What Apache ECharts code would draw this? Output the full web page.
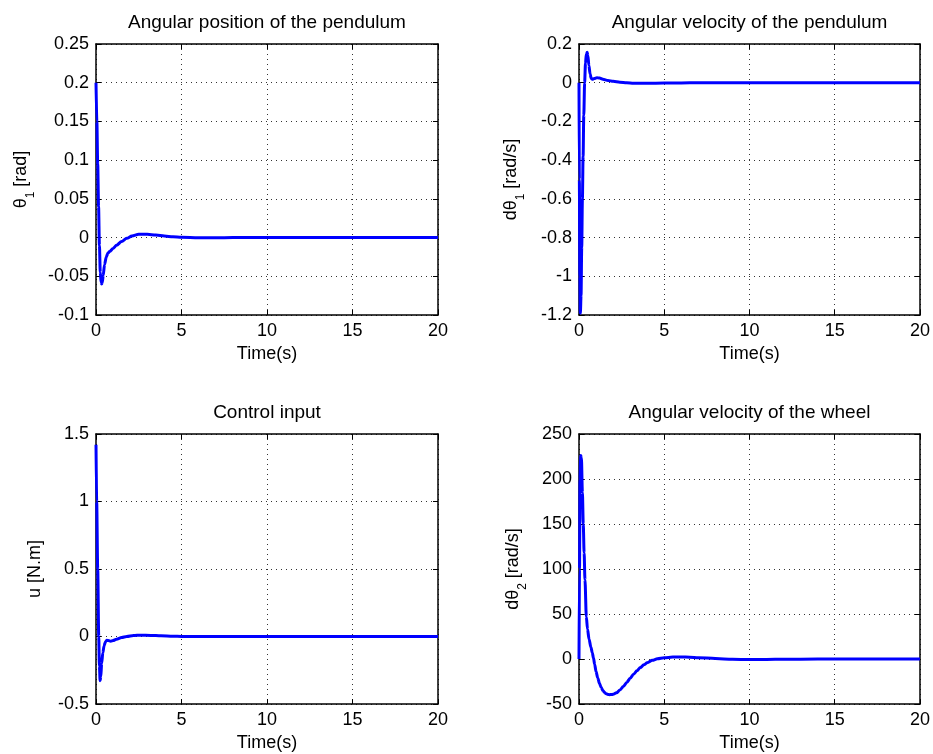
<!DOCTYPE html>
<html>
<head>
<meta charset="utf-8">
<script src="https://cdn.jsdelivr.net/npm/echarts@6/dist/echarts.min.js"></script>
<style>
html,body{margin:0;padding:0;background:#fff;}
#chart{width:933px;height:754px;}
</style>
</head>
<body>
<div id="chart"></div>
<script>
// ---- Data ----
const titles = ['Angular position of the pendulum', 'Angular velocity of the pendulum', 'Control input', 'Angular velocity of the wheel'];
const xName = 'Time(s)';

// Angular position theta1 [rad]
const posT = [0, 0.05, 0.1, 0.15, 0.2, 0.25, 0.3, 0.33, 0.37, 0.42, 0.5, 0.6, 0.7, 0.8, 1.0, 1.2, 1.5, 1.8, 2.1, 2.5, 3.0, 3.5, 4.0, 4.5, 5.0, 6, 7, 8, 10, 12, 14, 16, 18, 20];
const posV = [0.2, 0.15, 0.095, 0.04, -0.01, -0.045, -0.058, -0.06, -0.058, -0.049, -0.035, -0.025, -0.02, -0.018, -0.014, -0.010, -0.005, -0.001, 0.002, 0.0042, 0.0042, 0.0032, 0.002, 0.001, 0.0003, -0.0002, -0.0002, 0, 0, 0, 0, 0, 0, 0];

// Angular velocity dtheta1 [rad/s]
const velT = [0, 0.02, 0.05, 0.08, 0.12, 0.16, 0.2, 0.24, 0.28, 0.33, 0.38, 0.43, 0.48, 0.52, 0.58, 0.65, 0.72, 0.78, 0.9, 1.05, 1.2, 1.4, 1.7, 2.0, 2.4, 2.8, 3.2, 4, 5, 6, 7, 8, 10, 20];
const velV = [0, -0.5, -1.0, -1.19, -1.1, -0.85, -0.6, -0.38, -0.17, 0.0, 0.1, 0.148, 0.157, 0.14, 0.09, 0.045, 0.022, 0.018, 0.022, 0.026, 0.024, 0.018, 0.012, 0.007, 0.003, 0.0, -0.003, -0.003, -0.002, -0.001, 0, 0, 0, 0];

// Control input u [N.m]
const ctlT = [0, 0.04, 0.1, 0.16, 0.2, 0.24, 0.28, 0.33, 0.4, 0.47, 0.55, 0.63, 0.72, 0.86, 1.0, 1.2, 1.5, 1.8, 2.2, 2.6, 3.2, 3.8, 4.5, 5, 6, 8, 20];
const ctlV = [1.42, 1.0, 0.5, 0.0, -0.22, -0.327, -0.3, -0.2, -0.12, -0.07, -0.04, -0.028, -0.03, -0.035, -0.03, -0.02, -0.008, 0.0, 0.007, 0.01, 0.008, 0.005, 0.002, 0, 0, 0, 0];

// Wheel velocity dtheta2 [rad/s]
const whlT = [0, 0.03, 0.06, 0.1, 0.14, 0.2, 0.25, 0.3, 0.35, 0.43, 0.5, 0.59, 0.7, 0.78, 0.85, 0.92, 1.0, 1.1, 1.2, 1.3, 1.4, 1.5, 1.6, 1.7, 1.8, 1.9, 2.0, 2.2, 2.4, 2.6, 2.8, 3.0, 3.2, 3.4, 3.6, 3.8, 4.0, 4.3, 4.6, 5.0, 5.5, 6.0, 6.5, 7.0, 8.0, 9, 10, 11, 12, 14, 20];
const whlV = [0, 100, 200, 226, 224, 185, 150, 118, 88, 47, 33, 22, 13, 7, 1, -6, -14, -21, -27, -31.5, -35, -37.3, -38.7, -39.4, -39.6, -39.5, -39.2, -37.5, -34.5, -30.5, -26, -21.5, -17, -13, -9.5, -6.5, -4.2, -1.5, 0.2, 1.3, 2.1, 2.3, 2.0, 1.5, 0.5, -0.3, -0.6, -0.5, -0.3, 0, 0];

const yNames = [
  '{a|θ}{s|1}{sp| }{a|[rad]}',
  '{a|dθ}{s|1}{sp| }{a|[rad/s]}',
  '{a|u [N.m]}',
  '{a|dθ}{s|2}{sp| }{a|[rad/s]}'
];
const yMin = [-0.1, -1.2, -0.5, -50];
const yMax = [0.25, 0.2, 1.5, 250];
const yStep = [0.05, 0.2, 0.5, 50];
const seriesT = [posT, velT, ctlT, whlT];
const seriesV = [posV, velV, ctlV, whlV];

// ---- Layout ----
const FONT = '"Liberation Sans", Arial, Helvetica, sans-serif';
const grids = [
  {left: 96, top: 44, width: 342, height: 271},
  {left: 579, top: 44, width: 341, height: 271},
  {left: 96, top: 434, width: 342, height: 270},
  {left: 579, top: 434, width: 341, height: 270}
];
const yGaps = [59, 52, 52, 50];

const rich = {
  a: {fontSize: 18, lineHeight: 18, verticalAlign: 'top', color: '#000', fontFamily: FONT},
  s: {fontSize: 12, lineHeight: 12, verticalAlign: 'bottom', color: '#000', fontFamily: FONT},
  sp: {fontSize: 18, lineHeight: 25, color: '#000', fontFamily: FONT}
};

const axisLineStyle = {show: true, onZero: false, lineStyle: {color: '#000', width: 1.5}};
const tickStyle = {show: true, inside: true, length: 5, lineStyle: {color: '#000', width: 1}};
const gridLine = {show: true, lineStyle: {color: '#333', width: 1, type: [1, 4]}};
const labelStyle = {color: '#000', fontSize: 18, fontFamily: FONT};

const option = {
  animation: false,
  backgroundColor: '#fff',
  textStyle: {fontFamily: FONT},
  title: [],
  grid: [],
  xAxis: [],
  yAxis: [],
  series: []
};

for (let i = 0; i < 4; i++) {
  const g = grids[i];
  option.grid.push(Object.assign({containLabel: false}, g));
  option.title.push({
    text: titles[i],
    left: g.left + g.width / 2,
    top: g.top - 31,
    textAlign: 'center',
    padding: 0,
    textStyle: {fontSize: 19, fontWeight: 'normal', color: '#000', fontFamily: FONT}
  });
  // bottom x axis
  option.xAxis.push({
    type: 'value', gridIndex: i, min: 0, max: 20, interval: 5, position: 'bottom',
    name: xName, nameLocation: 'middle', nameGap: 30,
    nameTextStyle: {fontSize: 18, color: '#000', fontFamily: FONT},
    axisLine: axisLineStyle, axisTick: tickStyle,
    axisLabel: Object.assign({margin: 7}, labelStyle),
    splitLine: gridLine
  });
  // top x axis (box)
  option.xAxis.push({
    type: 'value', gridIndex: i, min: 0, max: 20, interval: 5, position: 'top',
    axisLine: axisLineStyle, axisTick: tickStyle,
    axisLabel: {show: false}, splitLine: {show: false}
  });
  // left y axis
  option.yAxis.push({
    type: 'value', gridIndex: i, min: yMin[i], max: yMax[i], interval: yStep[i], position: 'left',
    name: yNames[i], nameLocation: 'middle', nameGap: yGaps[i],
    nameTextStyle: {rich: rich, fontSize: 18, color: '#000', fontFamily: FONT},
    axisLine: axisLineStyle, axisTick: tickStyle,
    axisLabel: Object.assign({margin: 7}, labelStyle),
    splitLine: gridLine
  });
  // right y axis (box)
  option.yAxis.push({
    type: 'value', gridIndex: i, min: yMin[i], max: yMax[i], interval: yStep[i], position: 'right',
    axisLine: axisLineStyle, axisTick: tickStyle,
    axisLabel: {show: false}, splitLine: {show: false}
  });
  option.series.push({
    type: 'line',
    xAxisIndex: i * 2,
    yAxisIndex: i * 2,
    data: seriesT[i].map((t, k) => [t, seriesV[i][k]]),
    showSymbol: false,
    smooth: 0.3,
    smoothMonotone: 'x',
    lineStyle: {color: '#0000ff', width: 3},
    itemStyle: {color: '#0000ff'}
  });
}

const chart = echarts.init(document.getElementById('chart'), null, {renderer: 'canvas'});
chart.setOption(option);
</script>
</body>
</html>
